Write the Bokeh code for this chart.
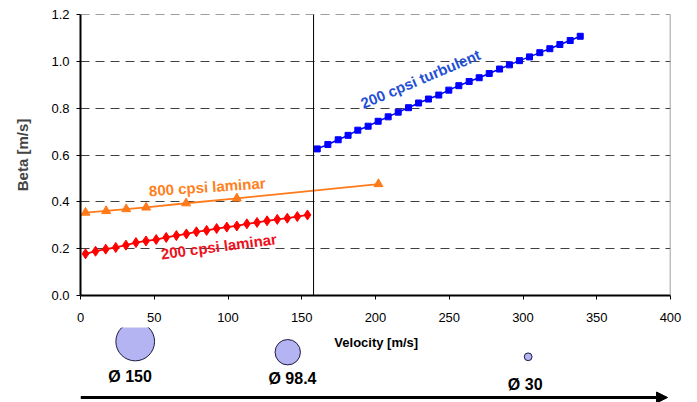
from bokeh.plotting import figure
from bokeh.models import Range1d, FixedTicker, Span, Arrow, NormalHead, PrintfTickFormatter, ColumnDataSource
from bokeh.layouts import column
from bokeh.core.properties import value
from bokeh.embed import file_html
from bokeh.resources import INLINE

# ---------------- data ----------------
lam800_v = [3.4, 17.4, 31.0, 44.5, 71.6, 106.0, 202.0]
lam800_beta = [0.354, 0.361, 0.369, 0.376, 0.394, 0.415, 0.476]

lam200_v = [3.4, 10.2, 17.1, 23.9, 30.8, 37.6, 44.4, 51.3, 58.1, 65.0, 71.8, 78.6,
            85.5, 92.3, 99.2, 106.0, 112.8, 119.7, 126.5, 133.4, 140.2, 147.0, 153.9]
lam200_beta = [0.178, 0.189, 0.198, 0.205, 0.215, 0.226, 0.233, 0.239, 0.248, 0.256,
               0.263, 0.272, 0.278, 0.286, 0.292, 0.297, 0.306, 0.312, 0.319, 0.325,
               0.330, 0.337, 0.344]

turb200_v = [160.5, 167.7, 174.7, 181.4, 188.0, 195.0, 201.8, 208.6, 215.4, 222.4,
             229.2, 235.9, 242.9, 249.7, 256.5, 263.5, 270.3, 277.1, 284.1, 290.8,
             297.6, 304.4, 311.4, 318.2, 325.0, 332.0, 338.8]
turb200_beta = [0.626, 0.645, 0.665, 0.684, 0.706, 0.723, 0.744, 0.763, 0.783, 0.802,
                0.822, 0.839, 0.856, 0.877, 0.896, 0.914, 0.930, 0.948, 0.967, 0.985,
                1.003, 1.019, 1.037, 1.054, 1.072, 1.089, 1.107]

transition_velocity = 158

x_ticks = [0, 50, 100, 150, 200, 250, 300, 350, 400]
y_ticks = [0.0, 0.2, 0.4, 0.6, 0.8, 1.0, 1.2]

series_labels = ["800 cpsi laminar", "200 cpsi laminar", "200 cpsi turbulent"]

diameter_labels = ["\u00d8 150", "\u00d8 98.4", "\u00d8 30"]
diameters = [150, 98.4, 30]

# ---------------- layout constants ----------------
W = 697
MAIN_H = 327
BOTTOM_H = 402 - MAIN_H
LEFT = 80
RIGHT = 27
TOP = 14
BOTTOM = 32
FONT = "Liberation Sans"

p = figure(width=W, height=MAIN_H, x_range=Range1d(0, 400), y_range=Range1d(0, 1.2),
           output_backend="svg", toolbar_location=None,
           min_border_left=LEFT, min_border_right=RIGHT,
           min_border_top=TOP, min_border_bottom=BOTTOM)
p.outline_line_color = None
p.background_fill_color = "white"
p.border_fill_color = "white"

p.xgrid.visible = False
p.ygrid.ticker = FixedTicker(ticks=y_ticks)
p.ygrid.grid_line_color = "#404040"
p.ygrid.grid_line_dash = "9 6"
p.ygrid.grid_line_width = 1

p.xaxis.ticker = FixedTicker(ticks=x_ticks)
p.yaxis.ticker = FixedTicker(ticks=y_ticks)
p.yaxis.formatter = PrintfTickFormatter(format="%.1f")
for ax in (p.xaxis[0], p.yaxis[0]):
    ax.axis_line_width = 2
    ax.axis_line_color = "black"
    ax.major_tick_in = 0
    ax.major_tick_out = 4
    ax.major_tick_line_color = "black"
    ax.minor_tick_line_color = None
    ax.major_label_text_font = FONT
    ax.major_label_text_font_size = "13px"
    ax.major_label_text_color = "black"
p.xaxis.major_label_standoff = 13
p.yaxis.major_label_standoff = 7
p.yaxis.axis_label = "Beta [m/s]"
p.yaxis.axis_label_text_font = FONT
p.yaxis.axis_label_text_font_style = "bold"
p.yaxis.axis_label_text_font_size = "15px"
p.yaxis.axis_label_standoff = 17

p.add_layout(Span(location=400, dimension="height", line_color="#808080", line_width=1.5))
p.add_layout(Span(location=1.2, dimension="width", line_color="#404040", line_width=1, line_dash="9 6"))
p.add_layout(Span(location=transition_velocity, dimension="height", line_color="black", line_width=1))

ORANGE = "#ff7a1a"
RED = "#ff0000"
BLUE = "#0000ff"

p.line(lam800_v, lam800_beta, line_color=ORANGE, line_width=1.8)
p.scatter(lam800_v, lam800_beta, marker="triangle", size=9, fill_color=ORANGE, line_color=ORANGE)

p.line(lam200_v, lam200_beta, line_color=RED, line_width=1.8)
p.scatter(lam200_v, lam200_beta, marker="diamond", size=10, fill_color=RED, line_color=RED)

p.line(turb200_v, turb200_beta, line_color=BLUE, line_width=1.5)
p.scatter(turb200_v, turb200_beta, marker="square", size=6, fill_color=BLUE, line_color=BLUE)

lab_src = ColumnDataSource(dict(
    x=[85.9, 93.8, 230.5],
    y=[0.464, 0.210, 0.925],
    text=series_labels,
    angle=[4.0, 7.5, 23.0],
    color=["#ff7f20", "#f0101c", "#1f4fd6"],
))
p.text(x="x", y="y", text="text", angle="angle", angle_units="deg", source=lab_src,
       text_color="color", text_font=value(FONT), text_font_style="bold",
       text_font_size="15px", text_align="center", text_baseline="middle")

# ---------------- lower panel (nozzle diameters + arrow) ----------------
# the column aligns this panel's frame with the chart frame, so velocity units line up
q = figure(width=W, height=BOTTOM_H,
           x_range=Range1d(0, 400),
           y_range=Range1d(402, MAIN_H),
           output_backend="svg", toolbar_location=None,
           x_axis_location=None, y_axis_location=None,
           min_border_left=LEFT, min_border_right=RIGHT,
           min_border_top=0, min_border_bottom=0)
q.grid.visible = False
q.outline_line_color = None
q.background_fill_color = "white"
q.border_fill_color = "white"

q.text(x=[200.5], y=[342], text=["Velocity [m/s]"], text_font=value(FONT),
       text_font_style="bold", text_font_size="13px", text_color="black",
       text_align="center", text_baseline="middle")

circ_x = [37.1, 140.5, 303.5]
circ_y = [341, 351.7, 356.3]
circ_size = [d * 0.258 for d in diameters]
q.scatter(circ_x, circ_y, size=circ_size, marker="circle", fill_color="#b4b4f2",
          line_color="#1a1a40", line_width=1)
q.text(x=[33.6, 143.7, 301.5], y=[376, 377.5, 384], text=diameter_labels,
       text_font=value(FONT), text_font_style="bold", text_font_size="16px",
       text_color="black", text_align="center", text_baseline="middle")

q.add_layout(Arrow(x_start=0, y_start=397, x_end=398, y_end=397,
                   line_color="black", line_width=3,
                   end=NormalHead(size=11, fill_color="black", line_color="black")))

layout = column(p, q, spacing=0)
open("out.html", "w").write(file_html(layout, INLINE))
